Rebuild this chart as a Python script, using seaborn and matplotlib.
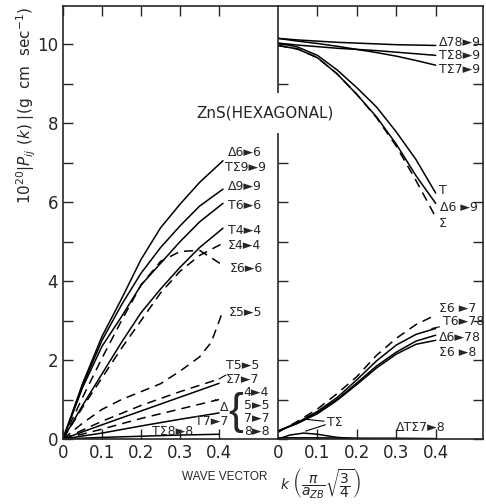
#!/usr/bin/env python
# -*- coding: utf-8 -*-

"""
Momentum matrix elements of hexagonal ZnS along the wave vector
"""

import matplotlib.pyplot as plt
import numpy as np
import pandas as pd
import seaborn as sns

from matplotlib.ticker import FixedLocator, NullFormatter

# k in units of (pi / a_ZB) * sqrt(3/4)
k_left = [0, 0.05, 0.1, 0.15, 0.2, 0.25, 0.3, 0.35, 0.41]
delta_66 = [0, 1.4, 2.6, 3.55, 4.55, 5.35, 5.95, 6.5, 7.05]
delta_99 = [0, 1.35, 2.5, 3.4, 4.2, 4.85, 5.4, 5.9, 6.33]
t_66 = [0, 1.3, 2.35, 3.1, 3.9, 4.45, 5.0, 5.5, 5.97]
t_44 = [0, 0.85, 1.65, 2.45, 3.2, 3.8, 4.35, 4.85, 5.34]
sigma_44 = [0, 0.8, 1.55, 2.3, 3.0, 3.7, 4.25, 4.65, 4.96]
sigma_66 = [0, 1.05, 2.05, 3.0, 3.9, 4.5, 4.75, 4.78, 4.4]

k_s55 = [0, 0.05, 0.1, 0.15, 0.2, 0.25, 0.3, 0.35, 0.38, 0.41]
sigma_55 = [0, 0.4, 0.75, 1.0, 1.2, 1.4, 1.72, 2.08, 2.45, 3.25]

k_low = [0, 0.1, 0.2, 0.3, 0.4]
t_55 = [0, 0.45, 0.85, 1.2, 1.52]
sigma_77 = [0, 0.36, 0.71, 1.06, 1.41]
delta_44 = [0, 0.25, 0.52, 0.76, 1.0]
delta_57 = [0, 0.15, 0.33, 0.5, 0.66]
t_77 = [0, 0.04, 0.07, 0.1, 0.12]

k_right = [0, 0.05, 0.1, 0.15, 0.2, 0.25, 0.3, 0.35, 0.4]
delta_78_9 = [10.15, 10.11, 10.08, 10.05, 10.03, 10.01, 9.99, 9.98, 9.97]
tsig_79 = [10.15, 10.08, 10.02, 9.95, 9.87, 9.79, 9.7, 9.59, 9.47]
tsig_89 = [10.03, 9.98, 9.94, 9.9, 9.87, 9.84, 9.8, 9.76, 9.72]
t_69 = [10.03, 9.93, 9.72, 9.35, 8.9, 8.41, 7.78, 7.08, 6.23]
delta_69 = [9.97, 9.88, 9.66, 9.25, 8.73, 8.16, 7.47, 6.67, 5.97]
sigma_69 = [9.97, 9.88, 9.66, 9.25, 8.73, 8.14, 7.42, 6.55, 5.62]
sigma_67 = [0.17, 0.45, 0.76, 1.15, 1.58, 2.12, 2.55, 2.9, 3.14]
t_678 = [0.2, 0.42, 0.7, 1.05, 1.5, 1.98, 2.38, 2.65, 2.8]
delta_678 = [0.2, 0.4, 0.67, 1.0, 1.42, 1.85, 2.2, 2.48, 2.63]
sigma_68 = [0.2, 0.4, 0.64, 0.98, 1.38, 1.8, 2.15, 2.4, 2.5]

k_hump = [0, 0.03, 0.065, 0.1, 0.15, 0.2, 0.3, 0.4]
tsig_hump = [0, 0.1, 0.15, 0.12, 0.04, 0.01, 0, 0]
k_78 = [0, 0.1, 0.2, 0.3, 0.4]
dtsig_78 = [0.03, 0.03, 0.02, 0.02, 0.01]

delta_group = ['4►4', '5►5', '7►7', '8►8']

plt.rc('font', size=11)
LABEL_SIZE = 9


def curve(ax, x, y, dashed=False):
  sns.lineplot(x=x, y=y, ax=ax, color='black', lw=1.1, sort=False,
               linestyle=(0, (6, 4)) if dashed else '-')


def tag(ax, text, x, y, src=None, size=LABEL_SIZE):
  if src is None:
    ax.text(x, y, text, ha='left', va='center', fontsize=size)
  else:
    ax.annotate(text, xy=src, xytext=(x, y), ha='left', va='center',
                fontsize=size,
                arrowprops=dict(arrowstyle='-', lw=0.8, color='black',
                                shrinkA=0, shrinkB=0))


def style_axis(ax, xmax):
  ax.set_xlim(0, xmax)
  ax.set_ylim(0, 10.97)
  ax.xaxis.set_major_locator(FixedLocator([0, 0.1, 0.2, 0.3, 0.4]))
  ax.set_xticklabels(['0', '0.1', '0.2', '0.3', '0.4'])
  ax.yaxis.set_major_locator(FixedLocator([0, 2, 4, 6, 8, 10]))
  ax.yaxis.set_minor_locator(FixedLocator([1, 3, 5, 7, 9]))
  ax.yaxis.set_minor_formatter(NullFormatter())
  ax.tick_params(which='both', direction='in', length=7, width=1,
                 top=True, labelsize=12)
  ax.set_xlabel('')
  ax.set_ylabel('')
  for s in ax.spines.values():
    s.set_linewidth(1.2)


def main():
  sns.set_theme(style='ticks')
  plt.rcParams['font.family'] = ['DejaVu Sans']

  fig = plt.figure(figsize=(4.86, 5.04), dpi=100)
  bottom = 1 - 439 / 504
  height = (439 - 6) / 504
  ax_l = fig.add_axes([63 / 486, bottom, 215 / 486, height])
  ax_r = fig.add_axes([278 / 486, bottom, 205 / 486, height])

  # left part
  for y in [delta_66, delta_99, t_66, t_44]:
    curve(ax_l, k_left, y)
  curve(ax_l, k_left, sigma_44, dashed=True)
  curve(ax_l, k_left, sigma_66, dashed=True)
  curve(ax_l, k_s55, sigma_55, dashed=True)
  curve(ax_l, k_low, t_55, dashed=True)
  curve(ax_l, k_low, sigma_77)
  curve(ax_l, k_low, delta_44, dashed=True)
  curve(ax_l, k_low, delta_57)
  curve(ax_l, k_low, t_77)

  style_axis(ax_l, 0.551)
  ax_l.spines['right'].set_visible(False)
  ax_l.tick_params(which='both', right=False)

  tag(ax_l, 'Δ6►6', 0.422, 7.27)
  tag(ax_l, 'TΣ9►9', 0.416, 6.89)
  tag(ax_l, 'Δ9►9', 0.422, 6.4)
  tag(ax_l, 'T6►6', 0.422, 5.92)
  tag(ax_l, 'T4►4', 0.422, 5.29)
  tag(ax_l, 'Σ4►4', 0.422, 4.91)
  tag(ax_l, 'Σ6►6', 0.428, 4.33)
  tag(ax_l, 'Σ5►5', 0.425, 3.2)
  tag(ax_l, 'T5►5', 0.418, 1.87, src=(k_low[-1], t_55[-1]))
  tag(ax_l, 'Σ7►7', 0.418, 1.52)
  tag(ax_l, 'Δ', 0.402, 0.8, src=(k_low[-1] - 0.01, delta_44[-1]))
  ax_l.text(0.462, 0.68, '{', ha='right', va='center', fontsize=32,
            family=['Liberation Sans', 'DejaVu Sans'])
  for i, lab in enumerate(delta_group):
    tag(ax_l, lab, 0.463, 1.17 - 0.33 * i)
  tag(ax_l, 'T7►7', 0.338, 0.45)
  tag(ax_l, 'TΣ8►8', 0.228, 0.2)

  # right part
  for y in [delta_78_9, tsig_79, tsig_89, t_69, delta_69]:
    curve(ax_r, k_right, y)
  curve(ax_r, k_right, sigma_69, dashed=True)
  curve(ax_r, k_right, sigma_67, dashed=True)
  for y in [t_678, delta_678, sigma_68]:
    curve(ax_r, k_right, y)
  curve(ax_r, k_hump, tsig_hump)
  curve(ax_r, k_78, dtsig_78)

  style_axis(ax_r, 0.52)
  ax_r.tick_params(which='both', right=True, labelleft=False)
  ax_r.xaxis.get_major_ticks()[0].tick1line.set_visible(False)
  ax_r.xaxis.get_major_ticks()[0].tick2line.set_visible(False)

  tag(ax_r, 'Δ78►9', 0.408, 10.05)
  tag(ax_r, 'TΣ8►9', 0.408, 9.72)
  tag(ax_r, 'TΣ7►9', 0.408, 9.36)
  tag(ax_r, 'T', 0.408, 6.3)
  tag(ax_r, 'Δ6 ►9', 0.41, 5.87)
  tag(ax_r, 'Σ', 0.408, 5.45)
  tag(ax_r, 'Σ6 ►7', 0.408, 3.3)
  tag(ax_r, 'T6►78', 0.418, 2.97, src=(k_right[-1] - 0.01, t_678[-1]))
  tag(ax_r, 'Δ6►78', 0.408, 2.58)
  tag(ax_r, 'Σ6 ►8', 0.408, 2.2)
  tag(ax_r, 'TΣ', 0.125, 0.42, src=(0.07, 0.5))
  ax_r.annotate('', xy=(0.07, 0.2), xytext=(0.12, 0.36),
                arrowprops=dict(arrowstyle='-', lw=0.8, color='black',
                                shrinkA=0, shrinkB=0))
  tag(ax_r, 'ΔTΣ7►8', 0.3, 0.3)

  fig.text(265 / 486, 1 - 113 / 504, 'ZnS(HEXAGONAL)', ha='center',
           va='center', fontsize=11,
           bbox=dict(facecolor='white', edgecolor='none', pad=9))
  fig.text(26 / 486, 1 - 106 / 504,
           r'$10^{20}|P_{ij}\ (k)\ |$(g  cm  sec$^{-1}$)',
           rotation=90, ha='center', va='center', fontsize=11)
  fig.text(182 / 486, 1 - 477 / 504, 'WAVE VECTOR', ha='left',
           va='center', fontsize=8.5,
           family=['Liberation Sans Narrow', 'Liberation Sans'])
  fig.text(280 / 486, 1 - 483 / 504,
           r'$k\ \left(\dfrac{\pi}{a_{ZB}}\sqrt{\dfrac{3}{4}}\right)$',
           ha='left', va='center', fontsize=10)

  plt.savefig('out.png', dpi=100)
  plt.close()


if __name__ == '__main__':
  main()
